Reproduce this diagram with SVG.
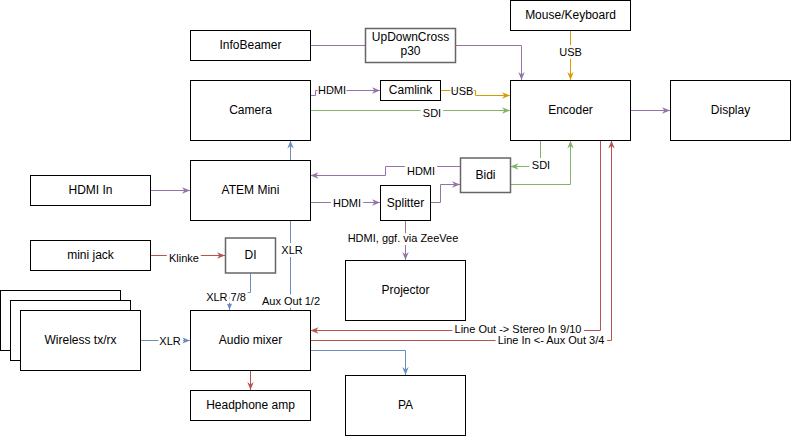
<svg xmlns="http://www.w3.org/2000/svg" width="791" height="436" viewBox="0 0 791 436">
<style>
  .n rect{fill:#fff;stroke:#000;stroke-width:1}
  .n rect.g{stroke:#666;stroke-width:1.5}
  .n text{font-family:"Liberation Sans",Arial,sans-serif;font-size:12px;fill:#000;text-anchor:middle}
  .e path{fill:none;stroke-width:1}
  .l text{font-family:"Liberation Sans",Arial,sans-serif;font-size:11px;fill:#000;text-anchor:middle;stroke:#fff;stroke-width:6;paint-order:stroke;stroke-linejoin:round}
  .l text.t{stroke-width:2.5}
  .pu{stroke:#9673a6}.gr{stroke:#82b366}.or{stroke:#d79b00}.re{stroke:#b85450}.bl{stroke:#6c8ebf}
</style>
<defs>
  <marker id="aPu" viewBox="0 0 10 10" refX="10" refY="5" markerWidth="8" markerHeight="8" markerUnits="userSpaceOnUse" orient="auto"><path d="M0,1 L10,5 L0,9 L3,5 z" fill="#9673a6"/></marker>
  <marker id="aGr" viewBox="0 0 10 10" refX="10" refY="5" markerWidth="8" markerHeight="8" markerUnits="userSpaceOnUse" orient="auto"><path d="M0,1 L10,5 L0,9 L3,5 z" fill="#82b366"/></marker>
  <marker id="aOr" viewBox="0 0 10 10" refX="10" refY="5" markerWidth="8" markerHeight="8" markerUnits="userSpaceOnUse" orient="auto"><path d="M0,1 L10,5 L0,9 L3,5 z" fill="#d79b00"/></marker>
  <marker id="aRe" viewBox="0 0 10 10" refX="10" refY="5" markerWidth="8" markerHeight="8" markerUnits="userSpaceOnUse" orient="auto"><path d="M0,1 L10,5 L0,9 L3,5 z" fill="#b85450"/></marker>
  <marker id="aBl" viewBox="0 0 10 10" refX="10" refY="5" markerWidth="8" markerHeight="8" markerUnits="userSpaceOnUse" orient="auto"><path d="M0,1 L10,5 L0,9 L3,5 z" fill="#6c8ebf"/></marker>
</defs>
<rect width="791" height="436" fill="#fff"/>
<g id="connectors" class="e">
  <path class="pu" d="M310.5,45.5 H365.5"/>
  <path class="pu" d="M455.5,45.5 H521.5 V80" marker-end="url(#aPu)"/>
  <path class="or" d="M570.5,30.5 V80" marker-end="url(#aOr)"/>
  <path class="pu" d="M310.5,95.5 H315.5 V90.5 H380" marker-end="url(#aPu)"/>
  <path class="or" d="M440.5,90.5 H475.5 V95.5 H510" marker-end="url(#aOr)"/>
  <path class="gr" d="M310.5,110.5 H510" marker-end="url(#aGr)"/>
  <path class="pu" d="M630.5,110.5 H670" marker-end="url(#aPu)"/>
  <path class="gr" d="M540.5,140.5 V166.5 H510.5" marker-end="url(#aGr)"/>
  <path class="gr" d="M510.5,184.5 H570.5 V140.5" marker-end="url(#aGr)"/>
  <path class="pu" d="M460.5,166.5 H385.5 V175.5 H310.5" marker-end="url(#aPu)"/>
  <path class="pu" d="M310.5,202.5 H380" marker-end="url(#aPu)"/>
  <path class="pu" d="M430.5,202.5 H440.5 V184.5 H460" marker-end="url(#aPu)"/>
  <path class="pu" d="M405.5,220.5 V260" marker-end="url(#aPu)"/>
  <path class="pu" d="M150.5,190.5 H190" marker-end="url(#aPu)"/>
  <path class="bl" d="M290.5,310.5 V140.5" marker-end="url(#aBl)"/>
  <path class="re" d="M150.5,255.5 H225" marker-end="url(#aRe)"/>
  <path class="bl" d="M250.5,273.5 V292.5 H229.5 V310" marker-end="url(#aBl)"/>
  <path class="bl" d="M140.5,340.5 H190" marker-end="url(#aBl)"/>
  <path class="re" d="M250.5,370.5 V390" marker-end="url(#aRe)"/>
  <path class="re" d="M600.5,140.5 V330.5 H310.5" marker-end="url(#aRe)"/>
  <path class="re" d="M310.5,340.5 H611.5 V140.5" marker-end="url(#aRe)"/>
  <path class="bl" d="M310.5,350.5 H405.5 V375" marker-end="url(#aBl)"/>
</g>
<g id="nodes" class="n">
  <g id="mouse"><rect x="510.5" y="0.5" width="120" height="30"/><text x="570.5" y="18.5">Mouse/Keyboard</text></g>
  <g id="infobeamer"><rect x="190.5" y="30.5" width="120" height="30"/><text x="250.5" y="48.5">InfoBeamer</text></g>
  <g id="updowncross"><rect class="g" x="365.5" y="28.5" width="90" height="34"/><text x="410.5" y="40.5">UpDownCross</text><text x="410.5" y="54.5">p30</text></g>
  <g id="camera"><rect x="190.5" y="80.5" width="120" height="60"/><text x="250.5" y="113.5">Camera</text></g>
  <g id="camlink"><rect x="380.5" y="80.5" width="60" height="20"/><text x="410.5" y="93.5">Camlink</text></g>
  <g id="encoder"><rect x="510.5" y="80.5" width="120" height="60"/><text x="570.5" y="113.5">Encoder</text></g>
  <g id="display"><rect x="670.5" y="80.5" width="120" height="60"/><text x="730.5" y="113.5">Display</text></g>
  <g id="atem"><rect x="190.5" y="160.5" width="120" height="60"/><text x="250.5" y="193.5">ATEM Mini</text></g>
  <g id="hdmiin"><rect x="30.5" y="175.5" width="120" height="30"/><text x="90.5" y="193.5">HDMI In</text></g>
  <g id="bidi"><rect class="g" x="460.5" y="158" width="50" height="34.5"/><text x="485.5" y="178.5">Bidi</text></g>
  <g id="splitter"><rect x="380.5" y="185.5" width="50" height="35"/><text x="405.5" y="206.5">Splitter</text></g>
  <g id="minijack"><rect x="30.5" y="240.5" width="120" height="30"/><text x="90.5" y="258.5">mini jack</text></g>
  <g id="di"><rect class="g" x="225.5" y="238" width="50" height="35"/><text x="250.5" y="259">DI</text></g>
  <g id="projector"><rect x="345.5" y="260.5" width="120" height="60"/><text x="405.5" y="293.5">Projector</text></g>
  <g id="wireless">
    <rect x="0.5" y="290.5" width="120" height="60"/>
    <rect x="10.5" y="300.5" width="120" height="60"/>
    <rect x="20.5" y="310.5" width="120" height="60"/>
    <text x="80.5" y="343.5">Wireless tx/rx</text>
  </g>
  <g id="audiomixer"><rect x="190.5" y="310.5" width="120" height="60"/><text x="250.5" y="343.5">Audio mixer</text></g>
  <g id="headphone"><rect x="190.5" y="390.5" width="120" height="30"/><text x="250.5" y="408.5">Headphone amp</text></g>
  <g id="pa"><rect x="345.5" y="375.5" width="120" height="60"/><text x="405.5" y="408.5">PA</text></g>
</g>
<g id="labels" class="l">
  <text class="t" x="332" y="94">HDMI</text>
  <text class="t" x="462" y="95">USB</text>
  <text x="432" y="117">SDI</text>
  <text x="570.5" y="56">USB</text>
  <text x="421" y="175">HDMI</text>
  <text x="541" y="169">SDI</text>
  <text x="347" y="207">HDMI</text>
  <text x="403" y="242">HDMI, ggf. via ZeeVee</text>
  <text x="184" y="262">Klinke</text>
  <text x="292" y="254">XLR</text>
  <text x="226" y="301">XLR 7/8</text>
  <text x="291" y="305">Aux Out 1/2</text>
  <text x="170" y="345">XLR</text>
  <text x="518" y="333">Line Out -&gt; Stereo In 9/10</text>
  <text x="551" y="344">Line In &lt;- Aux Out 3/4</text>
</g>
</svg>
